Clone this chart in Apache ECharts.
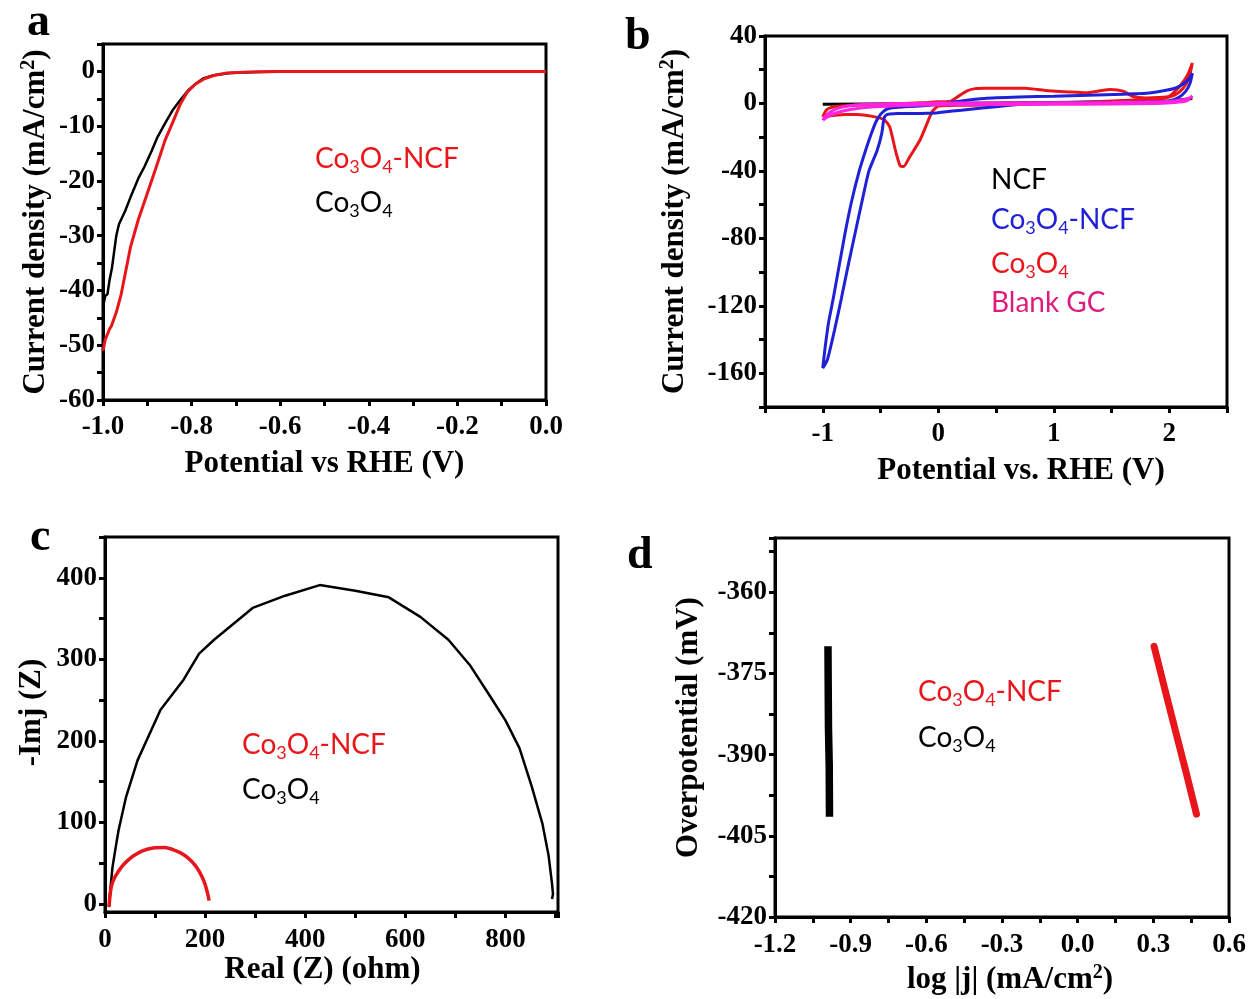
<!DOCTYPE html>
<html>
<head>
<meta charset="utf-8">
<script src="https://cdn.jsdelivr.net/npm/echarts@6/dist/echarts.min.js"></script>
<style>
  html, body { margin: 0; padding: 0; background: #fff; }
  #chart { width: 1254px; height: 999px; }
</style>
</head>
<body>
<div id="chart"></div>
<script>
// ---- panel a: LSV ----
const lsvNcfX = [-1.0, -0.995, -0.985, -0.981, -0.97, -0.959, -0.938, -0.92, -0.903, -0.88, -0.86, -0.84, -0.825, -0.81, -0.791, -0.77, -0.748, -0.72, -0.67, -0.6, -0.5, -0.3, 0];
const lsvNcfY = [-51, -49, -47, -46.5, -44, -40.7, -32.1, -27, -23, -17.5, -12.6, -8.8, -5.9, -3.8, -2.3, -1.3, -0.7, -0.3, -0.1, 0, 0, 0, 0];
const lsvCoX = [-1.0, -0.995, -0.99, -0.985, -0.98, -0.97, -0.964, -0.95, -0.938, -0.92, -0.907, -0.89, -0.877, -0.86, -0.843, -0.825, -0.808, -0.79, -0.774, -0.75, -0.713, -0.65, -0.59, -0.4, 0];
const lsvCoY = [-43, -41, -40.7, -38, -36, -30, -27.9, -25.5, -23, -19.5, -17.5, -14.5, -12, -9.5, -7.1, -5.2, -3.5, -2.2, -1.3, -0.7, -0.3, -0.1, 0, 0, 0];

// ---- panel b: CV ----
const cvNcfX = [-1.0, -0.6, 0, 1, 2, 2.2];
const cvNcfY = [-0.5, -0.3, 0, 0.5, 1.5, 3];
const cvCoNcfX = [-1.0, -0.98, -0.95, -0.91, -0.86, -0.807, -0.75, -0.684, -0.63, -0.58, -0.54, -0.5, -0.45, -0.4, -0.3, -0.1, 0, 0.2, 0.4, 0.7, 1.0, 1.3, 1.6, 1.8, 1.95, 2.05, 2.12, 2.17, 2.2,
  2.18, 2.14, 2.08, 2.0, 1.8, 1.5, 1.1, 0.8, 0.4, 0.2, 0.05, 0, -0.1, -0.25, -0.35, -0.42, -0.45, -0.47, -0.49, -0.53, -0.6, -0.66, -0.72, -0.78, -0.84, -0.9, -0.96, -1.0];
const cvCoNcfY = [-157, -145, -130, -116, -97, -77, -58, -40, -28, -18, -11, -6.5, -3.5, -2.5, -2, -1.2, -0.5, 1.5, 3, 3.8, 4.3, 4.8, 5.5, 6, 7.5, 9, 11.5, 14.5, 18,
  12, 7, 3.5, 1.5, 0.8, 0.6, 0.4, 0, -2.6, -4, -5, -5.5, -5.8, -6, -6, -6.2, -6.8, -9, -18, -28, -40, -58, -77, -96, -116, -135, -152, -157];
const cvCoX = [-1.0, -0.97, -0.93, -0.85, -0.7, -0.5, -0.3, -0.1, 0, 0.11, 0.18, 0.25, 0.32, 0.4, 0.6, 0.75, 0.95, 1.1, 1.28, 1.4, 1.49, 1.6, 1.68, 1.8, 1.9, 2.0, 2.1, 2.16, 2.2,
  2.17, 2.12, 2.05, 1.95, 1.8, 1.5, 1.2, 0.9, 0.6, 0.3, 0.1, 0, -0.05, -0.1, -0.16, -0.25, -0.3, -0.33, -0.37, -0.42, -0.47, -0.58, -0.7, -0.8, -0.9, -0.95, -1.0];
const cvCoY = [-8, -4, -2.5, -1.5, -1, -0.5, 0, 0.5, 1, 1.4, 4.5, 7.5, 8.8, 9, 9, 9, 7.5, 7, 6.3, 7.5, 8.3, 7.3, 4.3, 3.3, 3.5, 4.3, 11, 17, 24,
  15, 9, 5, 3, 2.4, 1.5, 0.5, 0, -0.5, -1, -1.2, -1.6, -4.5, -12.4, -22, -32, -37.4, -37, -28, -14, -9.5, -7.5, -6.5, -6.5, -7, -7.5, -8];
const cvGcX = [-1.0, -0.97, -0.92, -0.85, -0.75, -0.6, -0.4, -0.2, 0, 0.5, 1.0, 1.5, 1.8, 2.0, 2.1, 2.17, 2.2,
  2.15, 2.05, 1.9, 1.5, 1.0, 0.5, 0, -0.3, -0.55, -0.75, -0.88, -0.95, -1.0];
const cvGcY = [-10, -7, -4.5, -2.5, -1.2, -0.5, -0.2, 0, 0.2, 0.3, 0.4, 0.6, 0.9, 1.2, 2, 3, 4.5,
  1.5, 0.5, 0, -0.3, -0.5, -0.6, -0.8, -1.2, -2, -3.5, -5.5, -7.5, -10];

// ---- panel c: Nyquist ----
const eisCoX = [8, 11, 15, 21, 27, 42, 65, 111, 157, 188, 218, 295, 360, 429, 500, 567, 630, 686, 730, 770, 800, 828, 852, 874, 886, 893, 895, 893];
const eisCoY = [-2, 20, 45, 68, 90, 131, 176, 238, 275, 307, 324, 363, 378, 391, 384, 376, 352, 324, 292, 254, 225, 191, 145, 98, 60, 25, 12, 6];
const eisNcfX = [8, 10, 13, 19, 26, 34, 45, 57, 75, 96, 119, 142, 158, 172, 184, 194, 201, 206, 208];
const eisNcfY = [-4, 10, 22, 32, 39, 46, 53, 59, 65, 68.5, 69, 65, 60, 53, 44, 33, 22, 10, 4];
const eisTicks = [0, 50, 100, 150, 200, 250, 300, 350, 400, 450];
const eisLabels = [0, 100, 200, 300, 400];

// ---- panel d: Tafel ----
const tafCoX = [-0.99, -0.989, -0.988, -0.985, -0.984];
const tafCoY = [-370, -378, -385, -392, -401.5];
const tafNcfX = [0.303, 0.345, 0.387, 0.43, 0.471];
const tafNcfY = [-370, -377.8, -385.5, -393.3, -401];

const RED = '#e8161b';
const BLUE = '#2020d8';
const PINK = '#ff22e0';
const SERIF = '"Liberation Serif", "Times New Roman", serif';
const SANS = 'Lato, "Open Sans", sans-serif';

const pairs = (xs, ys) => xs.map((x, i) => [x, ys[i]]);
const near = (a, b) => Math.abs(a - b) < 1e-6;

const labelStyle = { color: '#000', fontFamily: SERIF, fontWeight: 'bold', fontSize: 27 };
const supRich = { sup: { color: '#000', fontFamily: SERIF, fontWeight: 'bold', fontSize: 20, padding: [0, 0, 14, 0] } };
const nameStyle = { color: '#000', fontFamily: SERIF, fontWeight: 'bold', fontSize: 31, rich: supRich };

function axis(gridIndex, opts) {
  return Object.assign({
    gridIndex,
    type: 'value',
    nameLocation: 'middle',
    nameTextStyle: nameStyle,
    axisLine: { show: true, onZero: false, lineStyle: { color: '#000', width: 3 } },
    axisTick: { show: true, inside: false, length: 6, lineStyle: { color: '#000', width: 3 } },
    axisLabel: Object.assign({ margin: 10 }, labelStyle),
    splitLine: { show: false },
  }, opts);
}

function line(xi, xs, ys, color, width, extra) {
  return Object.assign({
    type: 'line',
    xAxisIndex: xi,
    yAxisIndex: xi,
    data: pairs(xs, ys),
    showSymbol: false,
    symbol: 'none',
    lineStyle: { color, width },
    animation: false,
    z: 3,
  }, extra || {});
}

function coText(x, y, color, suffix) {
  return {
    type: 'text',
    left: x,
    top: y,
    z: 10,
    style: {
      text: '{n|Co}{s|3}{n|O}{s|4}' + (suffix ? '{n|' + suffix + '}' : ''),
      rich: {
        n: { fill: color, fontSize: 28, fontFamily: SANS },
        s: { fill: color, fontSize: 18, fontFamily: SANS, padding: [16, 0, 0, 0] },
      },
    },
  };
}

function plainText(x, y, color, text) {
  return {
    type: 'text', left: x, top: y, z: 10,
    style: { text, fill: color, fontSize: 28, fontFamily: SANS },
  };
}

function letter(x, y, text) {
  return {
    type: 'text', left: x, top: y, z: 10,
    style: { text, fill: '#000', fontSize: 46, fontWeight: 'bold', fontFamily: SERIF },
  };
}

const gridStyle = { show: true, borderColor: '#000', borderWidth: 3, backgroundColor: 'transparent' };

const chart = echarts.init(document.getElementById('chart'));
chart.setOption({
  backgroundColor: '#fff',
  animation: false,
  grid: [
    Object.assign({ left: 103, top: 44, width: 443, height: 356 }, gridStyle),
    Object.assign({ left: 765, top: 36, width: 462, height: 371 }, gridStyle),
    Object.assign({ left: 105, top: 537, width: 453, height: 375 }, gridStyle),
    Object.assign({ left: 775, top: 538, width: 454, height: 379 }, gridStyle),
  ],
  xAxis: [
    axis(0, {
      min: -1, max: 0, interval: 0.1,
      name: 'Potential vs RHE (V)', nameGap: 48,
      axisLabel: Object.assign({ margin: 14, formatter: v => (Math.round(v * 10) % 2 === 0 ? (Math.abs(v) < 1e-9 ? '0.0' : v.toFixed(1)) : '') }, labelStyle),
    }),
    axis(1, {
      min: -1.5, max: 2.5, interval: 0.5,
      name: 'Potential vs. RHE (V)', nameGap: 48,
      nameTextStyle: Object.assign({}, nameStyle, { padding: [0, 0, 0, 50] }),
      axisLabel: Object.assign({ margin: 14, formatter: v => (near(v, Math.round(v)) ? String(Math.round(v)) : '') }, labelStyle),
    }),
    axis(2, {
      min: 0, max: 905, interval: 100,
      name: 'Real (Z) (ohm)', nameGap: 42,
      nameTextStyle: Object.assign({}, nameStyle, { padding: [0, 18, 0, 0] }),
      axisLabel: Object.assign({ margin: 15, formatter: v => (v % 200 === 0 && v <= 800 ? String(v) : '') }, labelStyle),
    }),
    axis(3, {
      min: -1.2, max: 0.6, interval: 0.15,
      name: 'log |j| (mA/cm{sup|2})', nameGap: 46,
      nameTextStyle: Object.assign({}, nameStyle, { padding: [0, 0, 0, 16] }),
      axisLabel: Object.assign({ margin: 15, formatter: v => {
        const t = v * 10 / 3;
        if (!near(t, Math.round(t))) return '';
        return Math.abs(v) < 1e-9 ? '0.0' : v.toFixed(1);
      } }, labelStyle),
    }),
  ],
  yAxis: [
    axis(0, {
      min: -60, max: 5, interval: 5,
      name: 'Current density (mA/cm{sup|2})', nameGap: 50,
      axisLabel: Object.assign({ margin: 8, formatter: v => (v <= 0 && Math.round(v) % 10 === 0 ? String(Math.round(v)) : '') }, labelStyle),
    }),
    axis(1, {
      min: -180, max: 40, interval: 20,
      name: 'Current density (mA/cm{sup|2})', nameGap: 73,
      axisLabel: Object.assign({ margin: 8, formatter: v => (v % 40 === 0 ? String(v) : '') }, labelStyle),
    }),
    axis(2, {
      min: -10, max: 450,
      name: '-Imj (Z)', nameGap: 58,
      nameTextStyle: Object.assign({}, nameStyle, { padding: [0, 0, 0, 24] }),
      axisTick: { show: true, inside: false, length: 6, customValues: eisTicks, lineStyle: { color: '#000', width: 3 } },
      axisLabel: Object.assign({ margin: 8, customValues: eisLabels }, labelStyle),
    }),
    axis(3, {
      min: -420, max: -350, interval: 7.5,
      name: 'Overpotential (mV)', nameGap: 71,
      axisLabel: Object.assign({ margin: 8, formatter: v => (v >= -420 && v <= -360 && near(v / 15, Math.round(v / 15)) ? String(v) : '') }, labelStyle),
    }),
  ],
  series: [
    line(0, lsvCoX, lsvCoY, '#000', 2.5),
    line(0, lsvNcfX, lsvNcfY, RED, 3),
    line(1, cvNcfX, cvNcfY, '#000', 3),
    line(1, cvCoX, cvCoY, RED, 3, { smooth: 0.2 }),
    line(1, cvCoNcfX, cvCoNcfY, BLUE, 3, { smooth: 0.2 }),
    line(1, cvGcX, cvGcY, PINK, 3, { smooth: 0.2 }),
    line(2, eisCoX, eisCoY, '#000', 2.5),
    line(2, eisNcfX, eisNcfY, RED, 3.5, { smooth: 0.3 }),
    line(3, tafCoX, tafCoY, '#000', 7.5),
    line(3, tafNcfX, tafNcfY, RED, 7, { lineStyle: { color: RED, width: 7, cap: 'round' } }),
  ],
  graphic: [
    letter(27, 0, 'a'),
    letter(625, 14, 'b'),
    letter(30, 515, 'c'),
    letter(627, 533, 'd'),
    coText(315, 145, RED, '-NCF'),
    coText(315, 189, '#000'),
    plainText(991, 166, '#000', 'NCF'),
    coText(991, 206, BLUE, '-NCF'),
    coText(991, 250, RED),
    plainText(991, 289, '#e01a7a', 'Blank GC'),
    coText(242, 731, RED, '-NCF'),
    coText(242, 776, '#000'),
    coText(918, 678, RED, '-NCF'),
    coText(918, 724, '#000'),
  ],
});
</script>
</body>
</html>
